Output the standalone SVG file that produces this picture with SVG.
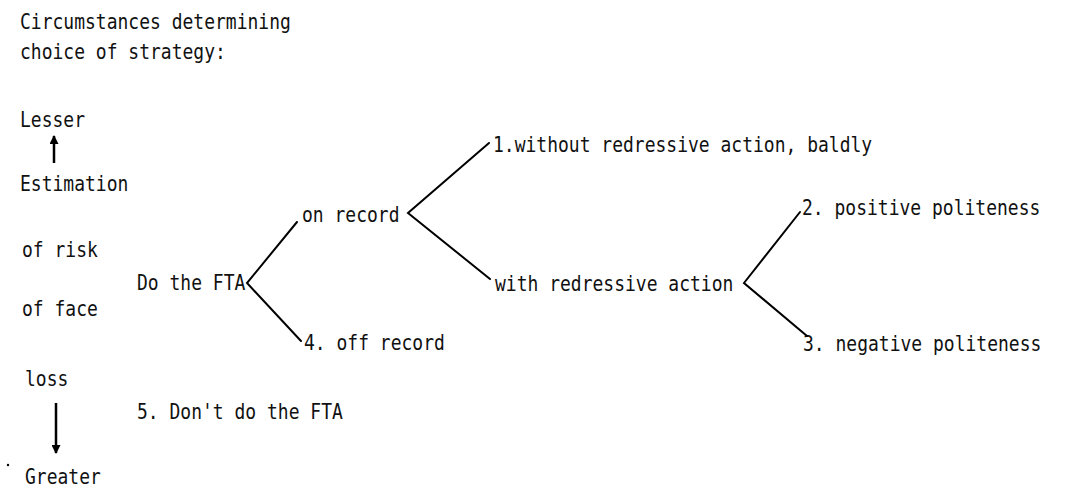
<svg xmlns="http://www.w3.org/2000/svg" width="1067" height="491" viewBox="0 0 1067 491">
  <style>
    .t { font-family: "DejaVu Sans Mono", "Liberation Mono", monospace; font-size: 18px; fill: #111; }
    .ln { stroke: #000; stroke-width: 2; fill: none; stroke-linecap: round; }
    .ax { stroke: #000; stroke-width: 2.5; fill: none; }
  </style>
  <defs>
    <marker id="head" viewBox="0 0 10 10" refX="9" refY="5" markerWidth="4.4" markerHeight="3.6" orient="auto" markerUnits="strokeWidth">
      <path d="M0,0 L10,5 L0,10 Z" fill="#000"/>
    </marker>
  </defs>
  <rect width="1067" height="491" fill="#fff"/>

  <!-- heading -->
  <g id="heading">
    <text class="t" transform="translate(20,29) scale(1,1.2)">Circumstances determining</text>
    <text class="t" transform="translate(20,59) scale(1,1.2)">choice of strategy:</text>
  </g>

  <!-- risk scale on the left -->
  <g id="scale">
    <text class="t" transform="translate(20,127) scale(1,1.2)">Lesser</text>
    <text class="t" transform="translate(20,191) scale(1,1.2)">Estimation</text>
    <text class="t" transform="translate(22,257) scale(1,1.2)">of risk</text>
    <text class="t" transform="translate(22,316) scale(1,1.2)">of face</text>
    <text class="t" transform="translate(25,386) scale(1,1.2)">loss</text>
    <text class="t" transform="translate(25,484) scale(1,1.2)">Greater</text>
    <circle cx="8" cy="465" r="1.2" fill="#000"/>
  </g>

  <!-- strategy nodes -->
  <g id="do-fta">
    <text class="t" transform="translate(137,290) scale(1,1.2)">Do the FTA</text>
  </g>
  <g id="on-record">
    <text class="t" transform="translate(302,222) scale(1,1.2)">on record</text>
  </g>
  <g id="off-record">
    <text class="t" transform="translate(304,350) scale(1,1.2)">4. off record</text>
  </g>
  <g id="dont-fta">
    <text class="t" transform="translate(137,419) scale(1,1.2)">5. Don't do the FTA</text>
  </g>
  <g id="baldly">
    <text class="t" transform="translate(493,152) scale(1,1.2)">1.without redressive action, baldly</text>
  </g>
  <g id="redressive">
    <text class="t" transform="translate(495,291) scale(1,1.2)">with redressive action</text>
  </g>
  <g id="positive">
    <text class="t" transform="translate(802,215) scale(1,1.2)">2. positive politeness</text>
  </g>
  <g id="negative">
    <text class="t" transform="translate(803,351) scale(1,1.2)">3. negative politeness</text>
  </g>

  <!-- connectors -->
  <g id="connectors">
    <line class="ax" x1="54" y1="163" x2="54" y2="136" marker-end="url(#head)"/>
    <line class="ax" x1="56" y1="403" x2="56" y2="453" marker-end="url(#head)"/>
    <polyline class="ln" points="297,222 247,283 301,341"/>
    <polyline class="ln" points="489,143 408,213 490,279"/>
    <polyline class="ln" points="800,212 744,283 807,336"/>
  </g>
</svg>
